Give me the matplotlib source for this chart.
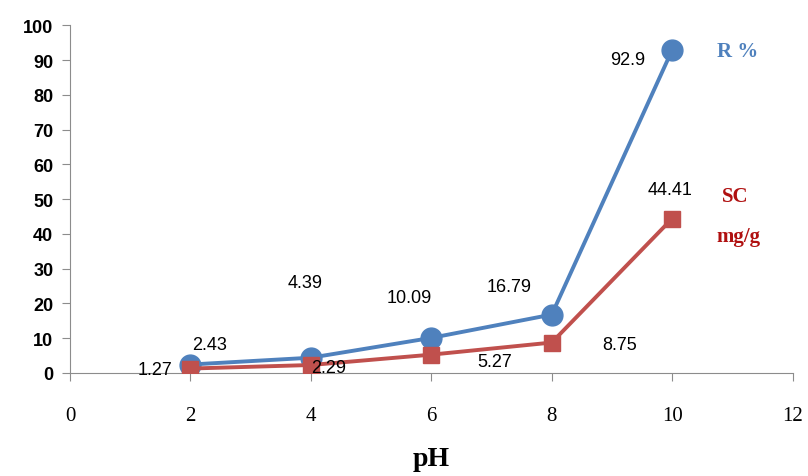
import matplotlib.pyplot as plt

ph = [2, 4, 6, 8, 10]
removal = [2.43, 4.39, 10.09, 16.79, 92.9]
capacity = [1.27, 2.29, 5.27, 8.75, 44.41]

# label positions (data coords)
removal_lbl = [(2.32, 8.3), (3.9, 26), (5.64, 21.8), (7.3, 25), (9.26, 90.2)]
capacity_lbl = [(1.41, 1.1), (4.3, 1.7), (7.05, 3.4), (9.13, 8.3), (9.96, 52.9)]

blue = '#4f81bd'
red = '#c0504d'

fig = plt.figure(figsize=(8.08, 4.77), dpi=100)
ax = fig.add_axes([0.0866, 0.216, 0.8944, 0.729])

ax.plot(ph, removal, color=blue, lw=2.8, marker='o', ms=15, zorder=3)
ax.plot(ph, capacity, color=red, lw=2.8, marker='s', ms=11, zorder=4)

for v, (x, y) in zip(removal, removal_lbl):
    ax.text(x, y, f'{v:g}', ha='center', va='center', fontsize=13,
            family='Liberation Sans', zorder=5)
for v, (x, y) in zip(capacity, capacity_lbl):
    ax.text(x, y, f'{v:.2f}', ha='center', va='center', fontsize=13,
            family='Liberation Sans', zorder=5)

ax.text(11.09, 92.5, 'R %', color=blue, fontsize=15, fontweight='bold',
        family='Liberation Serif', ha='center', va='center')
ax.text(11.05, 50.9, 'SC', color='#b01010', fontsize=15, fontweight='bold',
        family='Liberation Serif', ha='center', va='center')
ax.text(11.1, 39.4, 'mg/g', color='#b01010', fontsize=15, fontweight='bold',
        family='Liberation Serif', ha='center', va='center')

ax.set_xlim(0, 12)
ax.set_ylim(0, 100)
ax.set_xticks(range(0, 13, 2))
ax.set_yticks(range(0, 101, 10))
for s in ['top', 'right']:
    ax.spines[s].set_visible(False)
for s in ['left', 'bottom']:
    ax.spines[s].set_color('#8c8c8c')
ax.tick_params(axis='both', direction='out', color='#8c8c8c', length=6)
ax.tick_params(axis='x', pad=18)
ax.tick_params(axis='y', pad=6)
for t in ax.get_xticklabels():
    t.set_family('Liberation Serif')
    t.set_fontsize(15)
for t in ax.get_yticklabels():
    t.set_family('Liberation Sans')
    t.set_fontsize(13)
    t.set_fontweight('bold')

ax.set_xlabel('pH', family='Liberation Serif', fontsize=20, fontweight='bold',
              labelpad=15)

fig.savefig('out.png', dpi=100)
